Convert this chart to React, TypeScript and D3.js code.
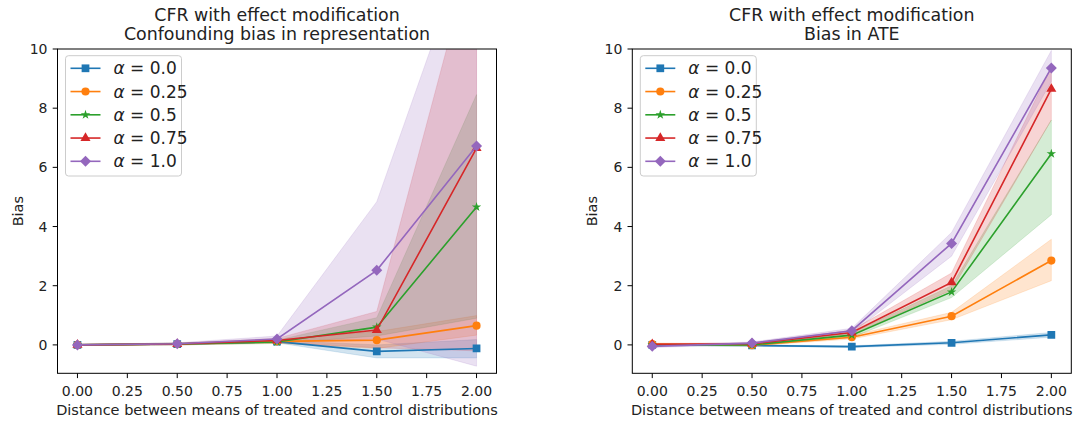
import React from "react";
import * as d3 from "d3";

const xValues = [0, 0.5, 1.0, 1.5, 2.0];
const alphaLabels = ["0.0", "0.25", "0.5", "0.75", "1.0"];
const colors = ["#1f77b4", "#ff7f0e", "#2ca02c", "#d62728", "#9467bd"];
const markers = ["square", "circle", "star", "triangle", "diamond"];
const xTicks = [0, 0.25, 0.5, 0.75, 1.0, 1.25, 1.5, 1.75, 2.0];
const yTicks = [0, 2, 4, 6, 8, 10];

// Left panel: Confounding bias in representation
const leftMean = [
  [0, 0.03, 0.11, -0.22, -0.12],
  [0, 0.03, 0.12, 0.16, 0.65],
  [0, 0.03, 0.1, 0.6, 4.66],
  [0, 0.03, 0.15, 0.5, 6.65],
  [0, 0.04, 0.2, 2.52, 6.72],
];
const leftLow = [
  [-0.02, 0.0, 0.07, -0.44, -0.44],
  [-0.02, 0.0, 0.05, -0.12, 0.33],
  [-0.02, 0.0, 0.05, 0.3, 0.9],
  [-0.02, 0.0, 0.08, -0.1, -0.2],
  [-0.02, 0.01, 0.1, 0.2, -0.72],
];
const leftHigh = [
  [0.02, 0.06, 0.15, 0.0, 0.18],
  [0.02, 0.06, 0.18, 0.45, 0.99],
  [0.02, 0.06, 0.16, 0.92, 8.46],
  [0.02, 0.06, 0.22, 1.13, 13.8],
  [0.02, 0.07, 0.3, 4.84, 14.4],
];

// Right panel: Bias in ATE
const rightMean = [
  [0.0, -0.02, -0.06, 0.07, 0.34],
  [0.03, -0.01, 0.26, 0.97, 2.85],
  [0, 0.0, 0.33, 1.79, 6.46],
  [0.02, 0.04, 0.42, 2.11, 8.65],
  [-0.05, 0.06, 0.48, 3.43, 9.36],
];
const rightLow = [
  [-0.03, -0.04, -0.09, 0.02, 0.26],
  [0.0, -0.04, 0.2, 0.85, 2.17],
  [-0.03, -0.03, 0.25, 1.6, 4.4],
  [-0.01, 0.01, 0.35, 1.85, 7.6],
  [-0.09, 0.02, 0.4, 3.0, 8.9],
];
const rightHigh = [
  [0.03, 0.0, -0.03, 0.12, 0.42],
  [0.06, 0.02, 0.32, 1.1, 3.57],
  [0.03, 0.03, 0.4, 2.0, 7.6],
  [0.05, 0.07, 0.5, 2.43, 9.4],
  [-0.01, 0.1, 0.56, 3.8, 9.95],
];

const FONT = "DejaVu Sans, sans-serif";

function markerPath(kind: string): string {
  if (kind === "square") return d3.symbol(d3.symbolSquare, 60)()!;
  if (kind === "circle") return d3.symbol(d3.symbolCircle, 52)()!;
  if (kind === "star") return d3.symbol(d3.symbolStar, 28)()!;
  if (kind === "triangle") return d3.symbol(d3.symbolTriangle, 44)()!;
  const r = 5.5;
  return `M0,${-r}L${r},0L0,${r}L${-r},0Z`;
}

type PanelProps = {
  left: number;
  right: number;
  title2: string;
  mean: number[][];
  low: number[][];
  high: number[][];
  id: string;
};

function Panel({ left, right, title2, mean, low, high, id }: PanelProps) {
  const top = 49;
  const bottom = 373.3;
  const x = d3.scaleLinear().domain([-0.1, 2.1]).range([left, right]);
  const y = d3.scaleLinear().domain([-0.96, 10]).range([bottom, top]);
  const line = d3
    .line<number>()
    .x((_, i) => x(xValues[i]))
    .y((d) => y(d));
  const area = d3.area<number>().x((_, i) => x(xValues[i]));
  const cx = (left + right) / 2;
  const legendX = left + 8;
  const legendTop = 55.7;
  const rowH = 23.25;
  return (
    <g>
      <defs>
        <clipPath id={id}>
          <rect x={left} y={top} width={right - left} height={bottom - top} />
        </clipPath>
      </defs>
      <g clipPath={`url(#${id})`}>
        {mean.map((_, s) => (
          <path
            key={"b" + s}
            d={
              area
                .y0((_, i) => y(low[s][i]))
                .y1((_, i) => y(high[s][i]))(mean[s]) || ""
            }
            fill={colors[s]}
            fillOpacity={0.2}
            stroke={colors[s]}
            strokeOpacity={0.15}
          />
        ))}
        {mean.map((m, s) => (
          <g key={"l" + s}>
            <path d={line(m) || ""} fill="none" stroke={colors[s]} strokeWidth={1.6} />
            {m.map((v, i) => (
              <path
                key={i}
                d={markerPath(markers[s])}
                transform={`translate(${x(xValues[i])},${y(v)})`}
                fill={colors[s]}
              />
            ))}
          </g>
        ))}
      </g>
      <rect
        x={left}
        y={top}
        width={right - left}
        height={bottom - top}
        fill="none"
        stroke="black"
        strokeWidth={1}
      />
      {xTicks.map((t) => (
        <g key={"xt" + t}>
          <line x1={x(t)} x2={x(t)} y1={bottom} y2={bottom + 4.8} stroke="black" strokeWidth={1} />
          <text
            x={x(t)}
            y={bottom + 22.5}
            textAnchor="middle"
            fontFamily={FONT}
            fontSize={14}
            fill="#222"
          >
            {t.toFixed(2)}
          </text>
        </g>
      ))}
      {yTicks.map((t) => (
        <g key={"yt" + t}>
          <line x1={left - 4.8} x2={left} y1={y(t)} y2={y(t)} stroke="black" strokeWidth={1} />
          <text
            x={left - 10}
            y={y(t)}
            dy="0.36em"
            textAnchor="end"
            fontFamily={FONT}
            fontSize={14}
            fill="#222"
          >
            {t}
          </text>
        </g>
      ))}
      <text
        x={cx}
        y={415}
        textAnchor="middle"
        fontFamily={FONT}
        fontSize={14.5}
        fill="#222"
      >
        Distance between means of treated and control distributions
      </text>
      <text
        transform={`translate(${left - 35},${(top + bottom) / 2}) rotate(-90)`}
        textAnchor="middle"
        fontFamily={FONT}
        fontSize={14.5}
        fill="#222"
      >
        Bias
      </text>
      <text x={cx} y={21} textAnchor="middle" fontFamily={FONT} fontSize={17.4} fill="#222">
        CFR with effect modification
      </text>
      <text x={cx} y={40} textAnchor="middle" fontFamily={FONT} fontSize={17.4} fill="#222">
        {title2}
      </text>
      <rect
        x={legendX}
        y={legendTop}
        width={116}
        height={120.3}
        rx={3}
        fill="white"
        fillOpacity={0.8}
        stroke="#cccccc"
        strokeWidth={1}
      />
      {alphaLabels.map((lab, s) => {
        const ly = legendTop + 12.6 + s * rowH;
        return (
          <g key={"lg" + s}>
            <line
              x1={legendX + 5}
              x2={legendX + 35}
              y1={ly}
              y2={ly}
              stroke={colors[s]}
              strokeWidth={1.6}
            />
            <path
              d={markerPath(markers[s])}
              transform={`translate(${legendX + 20},${ly})`}
              fill={colors[s]}
            />
            <text
              x={legendX + 48}
              y={ly}
              dy="0.36em"
              fontFamily={FONT}
              fontSize={17}
              fill="#222"
            >
              <tspan fontStyle="italic">α</tspan>
              {" = " + lab}
            </text>
          </g>
        );
      })}
    </g>
  );
}

export default function App() {
  return (
    <svg
      width={1078}
      height={424}
      style={{ position: "absolute", left: 0, top: 0, background: "white" }}
    >
      <rect width={1078} height={424} fill="white" />
      <Panel
        left={57.5}
        right={496.5}
        title2="Confounding bias in representation"
        mean={leftMean}
        low={leftLow}
        high={leftHigh}
        id="clipL"
      />
      <Panel
        left={632.3}
        right={1071.3}
        title2="Bias in ATE"
        mean={rightMean}
        low={rightLow}
        high={rightHigh}
        id="clipR"
      />
    </svg>
  );
}
